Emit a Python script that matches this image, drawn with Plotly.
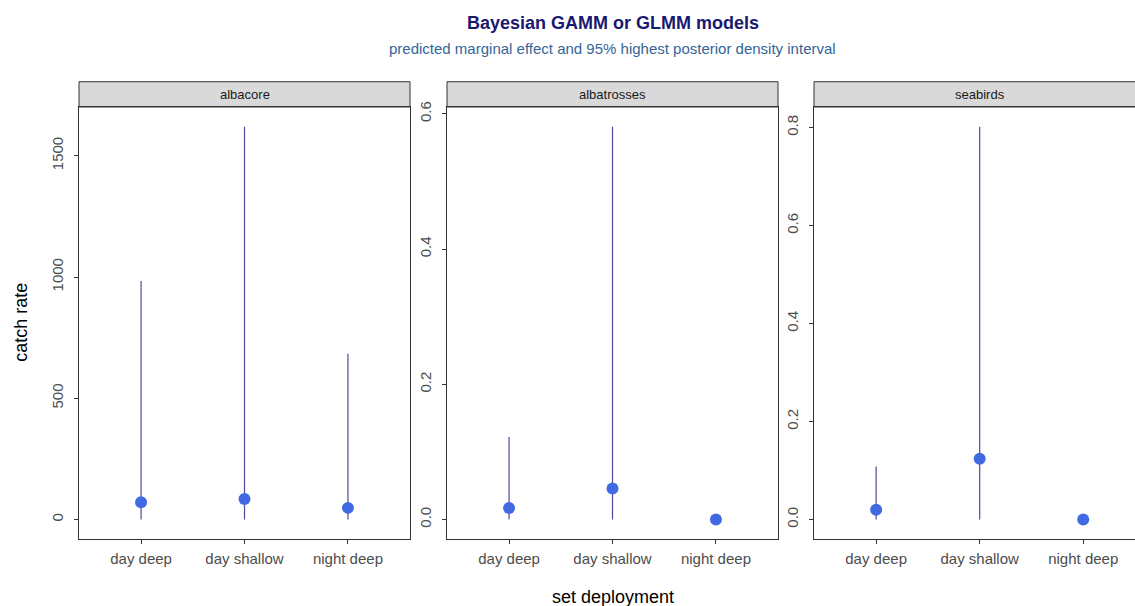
import plotly.graph_objects as go

# ---- data ----
categories = ["day deep", "day shallow", "night deep"]
panels = ["albacore", "albatrosses", "seabirds"]

albacore_est = [71, 85, 48]
albacore_lower = [0, 0, 0]
albacore_upper = [983, 1620, 684]

albatrosses_est = [0.017, 0.046, 0.0]
albatrosses_lower = [0.0, 0.0, 0.0]
albatrosses_upper = [0.122, 0.581, 0.0]

seabirds_est = [0.020, 0.124, 0.0]
seabirds_lower = [0.0, 0.0, 0.0]
seabirds_upper = [0.108, 0.802, 0.0]

albacore_ticks = [0, 500, 1000, 1500]
albatrosses_ticks = [0.0, 0.2, 0.4, 0.6]
seabirds_ticks = [0.0, 0.2, 0.4, 0.6, 0.8]

series = [
    (albacore_est, albacore_lower, albacore_upper, albacore_ticks, "d"),
    (albatrosses_est, albatrosses_lower, albatrosses_upper, albatrosses_ticks, ".1f"),
    (seabirds_est, seabirds_lower, seabirds_upper, seabirds_ticks, ".1f"),
]

# ---- layout geometry (pixels) ----
W, H = 1135, 606
panel_x = [(79, 410), (447, 778), (814, W)]
x_ranges = [[-0.6, 2.6], [-0.6, 2.6], [-0.6, 2.5]]
panel_top, panel_bottom = 102, 538.5
strip_top = 76.5

def px(x):
    return x / W

def py(y):
    return 1 - y / H

FONT = "Liberation Sans, Arial, Helvetica, sans-serif"
POINT_COLOR = "#4169E1"
LINE_COLOR = "#4a4a9e"
AXIS_COLOR = "#333333"
TICK_COLOR = "#4D4D4D"

fig = go.Figure()
shapes = []
annotations = []

for i, (est, lo, hi, ticks, fmt) in enumerate(series):
    n = "" if i == 0 else str(i + 1)
    # whiskers
    xs, ys = [], []
    for c, l, u in zip(categories, lo, hi):
        xs += [c, c, None]
        ys += [l, u, None]
    fig.add_trace(go.Scatter(
        x=xs, y=ys, mode="lines", line=dict(color=LINE_COLOR, width=1.2),
        xaxis="x" + n, yaxis="y" + n, showlegend=False, hoverinfo="skip"))
    fig.add_trace(go.Scatter(
        x=categories, y=est, mode="markers",
        marker=dict(color=POINT_COLOR, size=12),
        xaxis="x" + n, yaxis="y" + n, showlegend=False))

    ymin = min(lo)
    ymax = max(max(hi), max(est))
    pad = 0.05 * (ymax - ymin)
    x0, x1 = panel_x[i]
    fig.layout["xaxis" + n] = dict(
        domain=[px(x0), min(px(x1), 1.0)], anchor="y" + n,
        type="category", categoryorder="array", categoryarray=categories,
        range=x_ranges[i], showgrid=False, zeroline=False,
        showline=True, linecolor=AXIS_COLOR, linewidth=1, mirror=True,
        ticks="outside", ticklen=4, tickcolor=AXIS_COLOR, tickwidth=1,
        ticklabelstandoff=2,
        tickfont=dict(family=FONT, size=15, color=TICK_COLOR),
        fixedrange=True)
    fig.layout["yaxis" + n] = dict(
        domain=[py(panel_bottom), py(panel_top)], anchor="x" + n,
        range=[ymin - pad, ymax + pad], showgrid=False, zeroline=False,
        showline=True, linecolor=AXIS_COLOR, linewidth=1, mirror=(i < 2),
        ticks="outside", ticklen=4, tickcolor=AXIS_COLOR, tickwidth=1,
        ticklabelstandoff=5,
        tickmode="array", tickvals=ticks, tickformat=fmt, tickangle=-90,
        tickfont=dict(family=FONT, size=15, color=TICK_COLOR),
        fixedrange=True)

    # strip
    sx1 = x1 if i < 2 else W + 20
    shapes.append(dict(
        type="rect", xref="paper", yref="paper",
        x0=px(x0), x1=px(sx1), y0=py(panel_top), y1=py(strip_top),
        fillcolor="#D9D9D9", line=dict(color=AXIS_COLOR, width=1), layer="below"))
    cx = (x0 + (x1 if i < 2 else 1145.5)) / 2
    annotations.append(dict(
        text=panels[i], xref="paper", yref="paper",
        x=px(cx), y=py((strip_top + panel_top) / 2), showarrow=False,
        xanchor="center", yanchor="middle",
        font=dict(family=FONT, size=13, color="#1A1A1A")))

# titles
annotations.append(dict(
    text="<b>Bayesian GAMM or GLMM models</b>", xref="paper", yref="paper",
    x=px(612.5), y=py(17), showarrow=False, xanchor="center", yanchor="middle",
    font=dict(family=FONT, size=18, color="#191970")))
annotations.append(dict(
    text="predicted marginal effect and 95% highest posterior density interval",
    xref="paper", yref="paper", x=px(612.5), y=py(43), showarrow=False,
    xanchor="center", yanchor="middle",
    font=dict(family=FONT, size=15, color="#336699")))
annotations.append(dict(
    text="set deployment", xref="paper", yref="paper",
    x=px(612.5), y=py(597), showarrow=False, xanchor="center", yanchor="middle",
    font=dict(family=FONT, size=18, color="#000000")))
annotations.append(dict(
    text="catch rate", xref="paper", yref="paper", textangle=-90,
    x=px(21), y=py(320), showarrow=False, xanchor="center", yanchor="middle",
    font=dict(family=FONT, size=18, color="#000000")))

fig.update_layout(
    width=W, height=H, margin=dict(l=0, r=0, t=0, b=0),
    paper_bgcolor="white", plot_bgcolor="white",
    shapes=shapes, annotations=annotations, showlegend=False,
    font=dict(family=FONT))

fig.write_html(
    "out.html",
    config={"displayModeBar": False},
    post_script="document.body.style.margin='0';document.body.style.overflow='hidden';",
)
